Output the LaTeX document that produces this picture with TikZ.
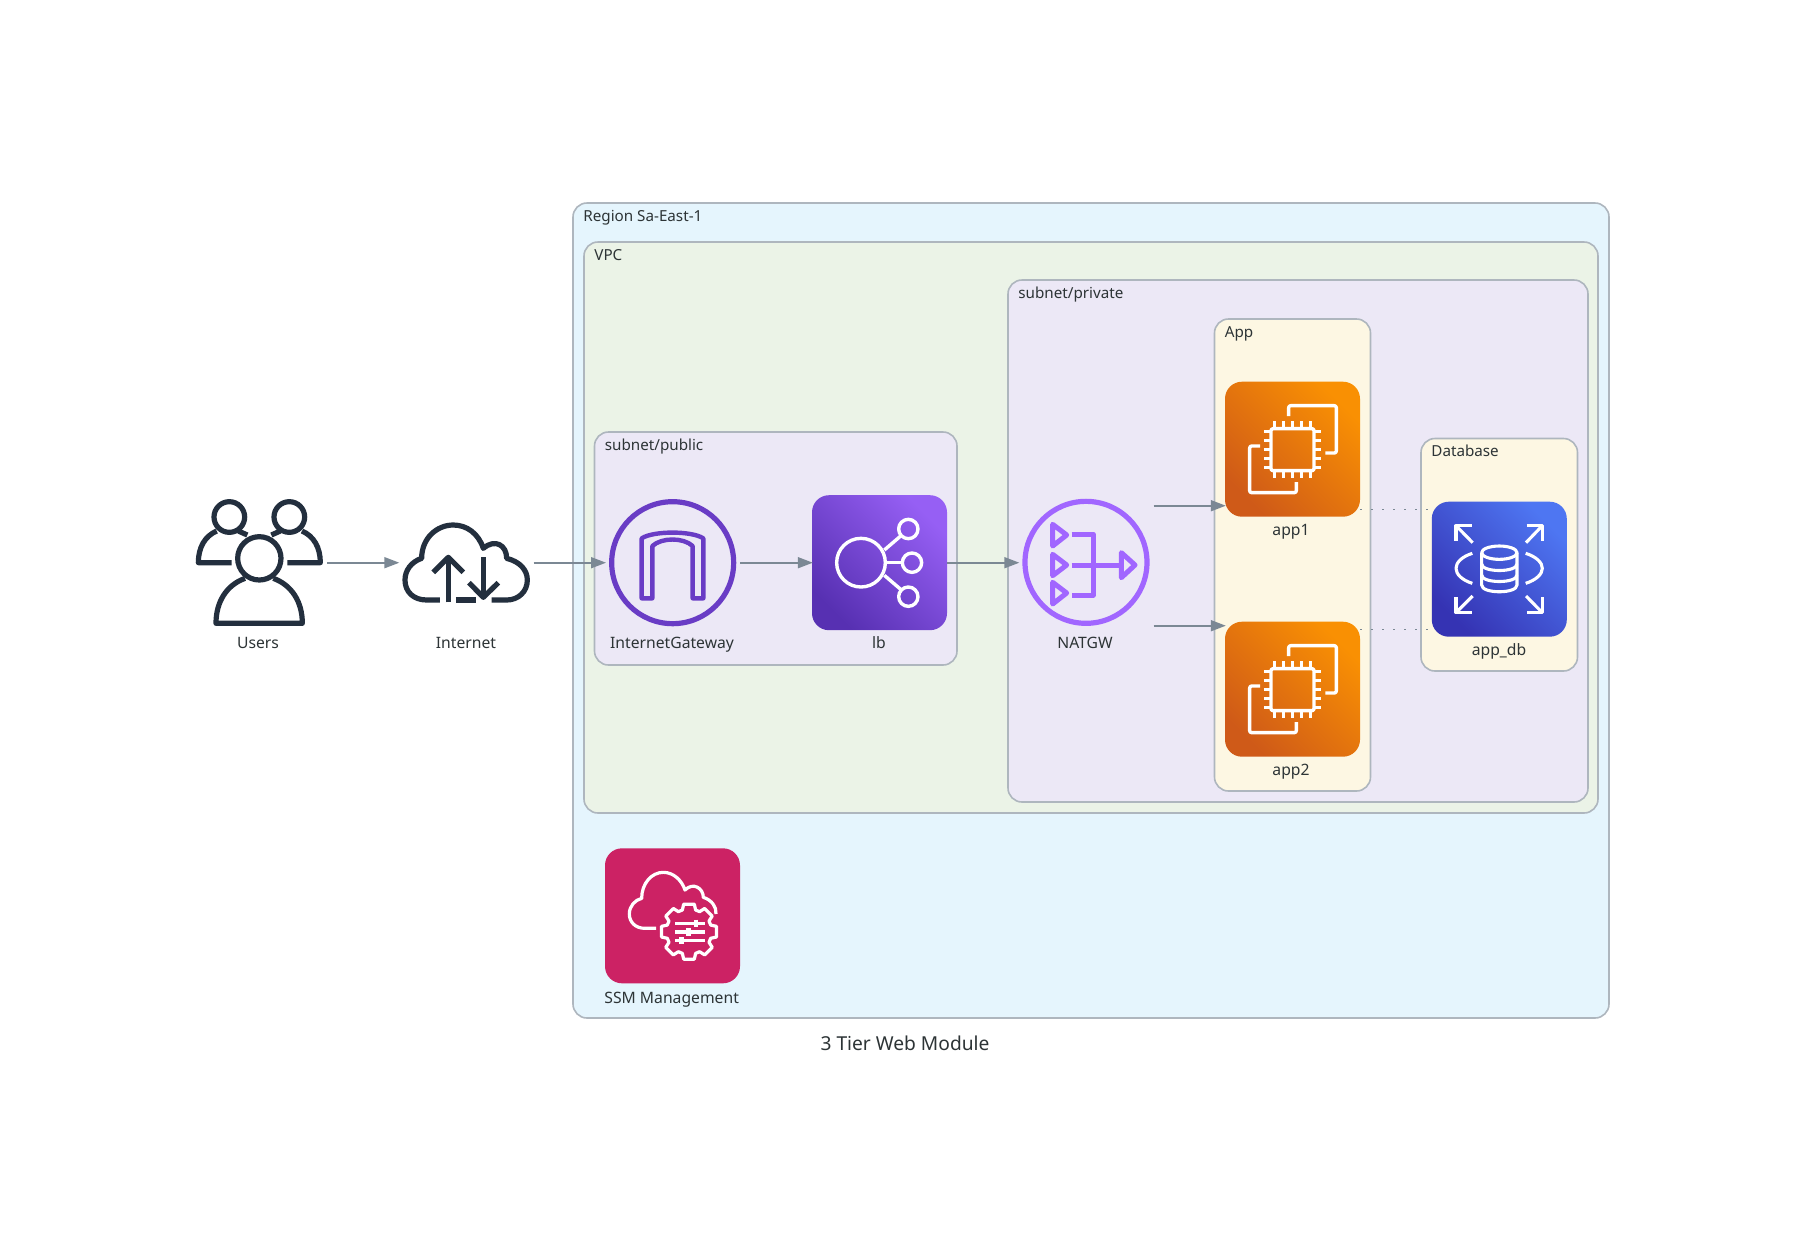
\documentclass[tikz,border=0pt]{standalone}
\usepackage{fontspec}
\setmainfont{Noto Sans}
\usetikzlibrary{arrows.meta}
\definecolor{edgec}{HTML}{7B8894}
\definecolor{txt}{HTML}{2D3436}
\definecolor{dark}{HTML}{232F3E}
\definecolor{brd}{HTML}{AEB6BE}
\definecolor{cregion}{HTML}{E5F5FD}
\definecolor{cvpc}{HTML}{EBF3E7}
\definecolor{csub}{HTML}{ECE8F6}
\definecolor{cgrp}{HTML}{FDF7E3}
\definecolor{igwc}{HTML}{693CC5}
\definecolor{natc}{HTML}{A166FF}
\definecolor{purpA}{HTML}{5730B2}
\definecolor{purpB}{HTML}{965FF4}
\definecolor{oranA}{HTML}{CF5A18}
\definecolor{oranB}{HTML}{F99003}
\definecolor{bluA}{HTML}{3533B3}
\definecolor{bluB}{HTML}{4E76F2}
\definecolor{pinkC}{HTML}{CC2264}
\tikzset{
  grpbox/.style={draw=brd,line width=0.8pt,rounded corners=7pt},
  grplabel/.style={inner sep=0pt,anchor=base west,text=txt,font=\fontsize{7.6}{9}\selectfont},
  iconbox/.style={minimum size=67.5pt,inner sep=0pt,outer sep=0pt,rectangle},
  tilebox/.style={iconbox,rounded corners=8.5pt},
  ictext/.style={inner sep=0pt,anchor=base,text=txt,font=\fontsize{7.85}{10}\selectfont},
  flow/.style={draw=edgec,line width=0.85pt,shorten >=-0.4pt,-{Triangle[length=7.5pt,width=5.5pt]}},
  dots/.style={draw=edgec,line width=0.7pt,dash pattern=on 1.2pt off 4.3pt},
  dk/.style={draw=dark,line width=2.6pt,line cap=butt,line join=round},
  wh/.style={draw=white,line width=1.7pt,line cap=butt,line join=round},
}
\newcommand{\grp}[7]{%
  \path[grpbox,fill=#6] (#2,#3) rectangle (#4,#5);
  \node[grplabel] (#1) at (#2+10,#3+18) {#7};}
\newcommand{\ecicon}[2]{%
  \begin{scope}[shift={(#1,#2)},scale=1/3,wh]
    \draw[rounded corners=1pt] (153,176) rectangle (282,302);
    \foreach \p in {164,191,218,245,272} {
      \draw (\p,153) -- (\p,172);
      \draw (\p,306) -- (\p,323);
    }
    \foreach \p in {184,211,238,265,292} {
      \draw (133,\p) -- (150,\p);
      \draw (286,\p) -- (303,\p);
    }
    \draw[rounded corners=1pt] (206,138) -- (206,107) -- (349,107) -- (349,249) -- (316,249);
    \draw[rounded corners=1pt] (120,228) -- (89,228) -- (89,368) -- (229,368) -- (229,336);
  \end{scope}}
\begin{document}
\begin{tikzpicture}[x=0.5pt,y=-0.5pt]
\useasboundingbox[fill=white] (0,0) rectangle (1812,1255);
% clusters
\grp{gRegion}{573}{203}{1609}{1018}{cregion}{Region Sa-East-1}
\grp{gVpc}{584}{242}{1598}{813}{cvpc}{VPC}
\grp{gPublic}{594.5}{432}{957}{665}{csub}{subnet/public}
\grp{gPrivate}{1008}{280}{1588}{802}{csub}{subnet/private}
\grp{gApp}{1214.5}{319}{1370.5}{791}{cgrp}{App}
\grp{gDb}{1421}{438.5}{1577.5}{671}{cgrp}{Database}
% icon boxes
\node[iconbox] (users) at (259.5,562.7) {};
\node[iconbox] (internet) at (466,562.7) {};
\node[iconbox] (igw) at (672.7,562.7) {};
\node[tilebox,bottom color=purpA,top color=purpB,shading angle=-45] (lb) at (879.5,562.7) {};
\node[iconbox] (natgw) at (1086,562.7) {};
\node[tilebox,bottom color=oranA,top color=oranB,shading angle=-45] (app1) at (1292.5,449.2) {};
\node[tilebox,bottom color=oranA,top color=oranB,shading angle=-45] (app2) at (1292.5,689.2) {};
\node[tilebox,bottom color=bluA,top color=bluB,shading angle=-45] (db) at (1499.3,569.2) {};
\node[tilebox,fill=pinkC] (ssm) at (672.5,915.8) {};
% labels
\node[ictext] (lUsers) at (258,648.3) {Users};
\node[ictext] (lInternet) at (466,648.3) {Internet};
\node[ictext] (lIgw) at (672,648.3) {InternetGateway};
\node[ictext] (lLb) at (879,648.3) {lb};
\node[ictext] (lNat) at (1085,648.3) {NATGW};
\node[ictext] (lApp1) at (1291,535.7) {app1};
\node[ictext] (lApp2) at (1291,775.7) {app2};
\node[ictext] (lDb) at (1499,655.7) {app\_db};
\node[ictext] (lSsm) at (671.7,1003) {SSM Management};
\node[inner sep=0pt,anchor=base,text=txt,font=\fontsize{9.6}{12}\selectfont] (title) at (905,1050.7) {3 Tier Web Module};
% users
\begin{scope}[shift={(170,470)},scale=1/3,dk]
  \draw (178,141) circle[radius=46];
  \draw (358,141) circle[radius=46];
  \draw (268,265) circle[radius=65];
  \draw (185,278) -- (85,278) .. controls (85,232) and (105,198) .. (140,183);
  \draw (205,183) -- (232,195);
  \draw (352,278) -- (451,278) .. controls (451,232) and (431,198) .. (396,183);
  \draw (331,183) -- (304,195);
  \draw (225,325) .. controls (170,345) and (138,395) .. (138,460) -- (397,460) .. controls (397,395) and (365,345) .. (310,325);
\end{scope}
% internet
\begin{scope}[shift={(170,470)},scale=1/3,dk]
  \draw (810,390) -- (770,390) .. controls (730,390) and (705,365) .. (705,330) .. controls (705,300) and (725,275) .. (755,265)
     .. controls (755,205) and (800,165) .. (850,165) .. controls (890,165) and (925,190) .. (940,235)
     .. controls (975,205) and (1010,225) .. (1010,265) .. controls (1050,275) and (1072,300) .. (1072,330)
     .. controls (1072,365) and (1045,390) .. (1010,390) -- (965,390);
  \draw (858,390) -- (918,390);
  \draw (835,397) -- (835,262);
  \draw (790,307) -- (835,262) -- (880,307);
  \draw (940,262) -- (940,380);
  \draw (897,338) -- (940,382) -- (985,338);
\end{scope}
% internet gateway
\begin{scope}[shift={(590,470)},scale=1/3]
  \draw[draw=igwc,line width=2.6pt] (248,278) circle[radius=183];
  \draw[draw=igwc,line width=2.2pt,line join=round] (155,385) -- (155,205) .. controls (190,182) and (305,182) .. (340,205) -- (340,385) -- (308,385) -- (308,228) .. controls (280,202) and (215,202) .. (187,228) -- (187,385) -- cycle;
\end{scope}
% load balancer
\begin{scope}[shift={(590,470)},scale=1/3,wh]
  \draw (813,278) circle[radius=73];
  \draw (955,177) circle[radius=29];
  \draw (966,278) circle[radius=29];
  \draw (955,380) circle[radius=29];
  \draw (883,240) -- (932,198);
  \draw (888,278) -- (936,278);
  \draw (883,316) -- (932,358);
\end{scope}
% nat gateway
\begin{scope}[shift={(1010,480)},scale=1/3,line join=round]
  \draw[draw=natc,line width=2.6pt] (228,247) circle[radius=183];
  \begin{scope}[draw=natc,line width=2.5pt]
    \draw (128,133) -- (128,198) -- (170,165) -- cycle;
    \draw (128,223) -- (128,287) -- (170,255) -- cycle;
    \draw (128,307) -- (128,372) -- (170,339) -- cycle;
    \draw (185,163) -- (250,163) -- (250,345) -- (185,345);
    \draw (185,255) -- (330,255);
    \draw (334,218) -- (334,293) -- (375,255) -- cycle;
  \end{scope}
\end{scope}
% ec2
\ecicon{1220}{370}
\ecicon{1220}{610}
% database
\begin{scope}[shift={(1420,490)},scale=1/3,wh,line width=1.55pt]
  \draw (108,152) -- (108,107) -- (155,107);
  \draw (108,107) -- (158,158);
  \draw (320,107) -- (367,107) -- (367,152);
  \draw (367,107) -- (318,158);
  \draw (108,322) -- (108,368) -- (155,368);
  \draw (108,368) -- (158,318);
  \draw (367,322) -- (367,368) -- (320,368);
  \draw (367,368) -- (318,318);
  \draw (157,190) .. controls (125,200) and (108,218) .. (108,235) .. controls (108,252) and (125,270) .. (157,280);
  \draw (317,190) .. controls (349,200) and (367,218) .. (367,235) .. controls (367,252) and (349,270) .. (317,280);
  \draw (238,188) ellipse[x radius=53,y radius=20];
  \draw (185,188) -- (185,285) .. controls (185,312) and (291,312) .. (291,285) -- (291,188);
  \draw (185,222) .. controls (185,248) and (291,248) .. (291,222);
  \draw (185,255) .. controls (185,281) and (291,281) .. (291,255);
\end{scope}
% ssm
\begin{scope}[shift={(590,840)},scale=1/3,wh,line width=1.6pt]
  \draw (198,265) -- (165,265) .. controls (135,265) and (118,245) .. (118,222) .. controls (118,198) and (135,180) .. (155,175)
     .. controls (155,130) and (185,97) .. (220,97) .. controls (250,97) and (275,120) .. (285,150)
     .. controls (310,125) and (340,145) .. (340,172) .. controls (365,180) and (380,200) .. (378,222);
  \begin{scope}[shift={(297,275)}]
    \draw (-17:68)
      \foreach \a in {0,45,...,315} { -- ({\a-17}:68) -- ({\a-11}:84) -- ({\a+11}:84) -- ({\a+17}:68) } -- cycle;
  \end{scope}
  \draw[line width=1.6pt] (255,250) -- (345,250);
  \draw[line width=1.6pt] (255,276) -- (345,276);
  \draw[line width=1.6pt] (255,302) -- (345,302);
  \draw[line width=2.2pt] (318,239) -- (318,261);
  \draw[line width=2.2pt] (296,265) -- (296,287);
  \draw[line width=2.2pt] (275,291) -- (275,313);
\end{scope}
% connectors
\coordinate (yUp) at (0,505.7);
\coordinate (yLow) at (0,625.7);
\coordinate (yDotUp) at (0,509.3);
\coordinate (yDotLow) at (0,629.3);
\draw[flow] (users.east) -- (internet.west);
\draw[flow] (internet.east) -- (igw.west);
\draw[flow] (igw.east) -- (lb.west);
\draw[flow] (lb.east) -- (natgw.west);
\draw[flow] (natgw.east |- yUp) -- (app1.west |- yUp);
\draw[flow] (natgw.east |- yLow) -- (app2.west |- yLow);
\draw[dots] (app1.east |- yDotUp) -- (db.west |- yDotUp);
\draw[dots] (app2.east |- yDotLow) -- (db.west |- yDotLow);
\end{tikzpicture}
\end{document}
